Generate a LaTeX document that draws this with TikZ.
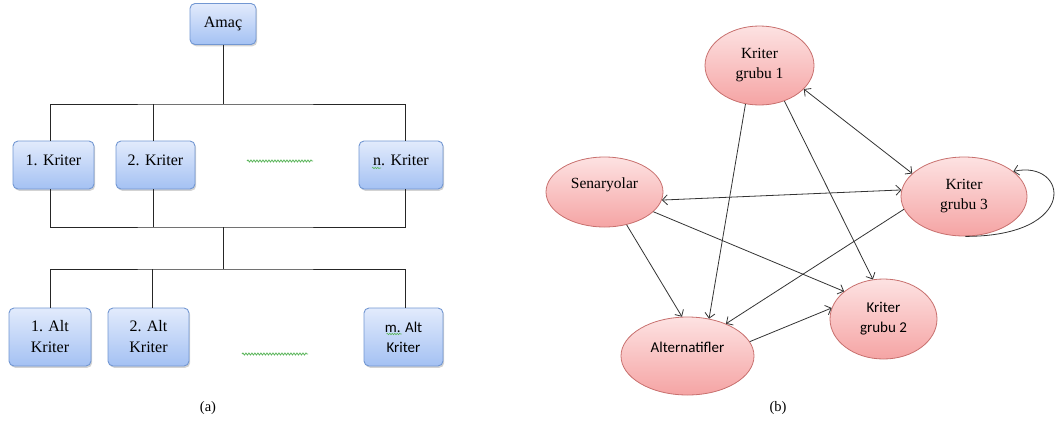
\documentclass[tikz,border=0pt]{standalone}
\usepackage{fontspec}
\setmainfont{Liberation Serif}
\newfontfamily\calib{Carlito}
\usetikzlibrary{shapes.geometric,shadows,arrows.meta,decorations.pathmorphing}
\definecolor{boxtop}{HTML}{E2EBFC}
\definecolor{boxbot}{HTML}{A4C1F3}
\definecolor{boxline}{HTML}{7297D2}
\definecolor{elltop}{HTML}{FDE2E2}
\definecolor{ellbot}{HTML}{F5A4A4}
\definecolor{ellline}{HTML}{C8706E}
\definecolor{linegray}{HTML}{333333}
\definecolor{spell}{HTML}{5BB55B}
\tikzset{
  kbox/.style={draw=boxline, line width=0.9pt, rounded corners=5pt, top color=boxtop, bottom color=boxbot,
    drop shadow={shadow xshift=1.2pt, shadow yshift=-1.8pt, opacity=0.35}, inner sep=0pt, align=center,
    font=\fontsize{16}{21}\selectfont},
  kell/.style={ellipse, draw=ellline, line width=0.8pt, top color=elltop, bottom color=ellbot, inner sep=0pt,
    align=center, font=\fontsize{15.5}{20}\selectfont},
  tree/.style={draw=black!85, line width=0.9pt},
  arr/.style={draw=linegray, line width=0.8pt, -{Straight Barb[length=5pt,width=10pt]}},
  darr/.style={draw=linegray, line width=0.8pt, {Straight Barb[length=5pt,width=10pt]}-{Straight Barb[length=5pt,width=10pt]}},
  squig/.style={draw=spell, line width=0.8pt, decorate, decoration={snake, amplitude=1pt, segment length=3pt}},
  captxt/.style={font=\fontsize{14.5}{16}\selectfont},
  sanstxt/.style={font=\calib\fontsize{15}{20}\selectfont}
}
\begin{document}
\begin{tikzpicture}[x=1pt,y=-1pt]
\useasboundingbox (0,0) rectangle (1056,423);
% ---------- (a) hierarchy ----------
\node[kbox, minimum width=66pt, minimum height=41pt] (amac) at (223,24) {Amaç};
\node[kbox, minimum width=81pt, minimum height=48pt, text height=11pt, text depth=10pt] (k1) at (53.5,165) {1. Kriter};
\node[kbox, minimum width=79pt, minimum height=48pt, text height=11pt, text depth=10pt] (k2) at (155.5,165) {2. Kriter};
\node[kbox, minimum width=84pt, minimum height=48pt, text height=11pt, text depth=10pt] (kn) at (401,165) {n. Kriter};
\node[kbox, minimum width=82pt, minimum height=58pt] (a1) at (50,337) {1. Alt\\Kriter};
\node[kbox, minimum width=81pt, minimum height=58pt] (a2) at (148.5,337) {2. Alt\\Kriter};
\node[kbox, minimum width=79pt, minimum height=58pt, sanstxt] (am) at (403.5,337) {m. Alt\\Kriter};

\coordinate (j1) at (223,104);
\coordinate (j2) at (223,227);
\coordinate (j3) at (223,269);
\draw[tree] (amac.south) -- (j1);
\draw[tree] (k1.north -| 50,0) |- (j1) -| (kn.north -| 405,0);
\draw[tree] (k2.north -| 153,0) -- (153,104);
\draw[tree] (k1.south -| 50,0) |- (j2) -| (kn.south -| 405,0);
\draw[tree] (k2.south -| 153,0) -- (153,227);
\draw[tree] (j2) -- (j3);
\draw[tree] (a1.north -| 50,0) |- (j3) -| (am.north -| 405,0);
\draw[tree] (a2.north -| 152,0) -- (152,269);

% spell-check squiggles / dots
\coordinate (d1s) at (247,161); \coordinate (d1e) at (313,161);
\coordinate (d2s) at (242,354); \coordinate (d2e) at (308,354);
\draw[squig] (d1s) -- (d1e);
\draw[squig] (d2s) -- (d2e);
\draw[squig, line width=0.6pt, decoration={snake, amplitude=0.7pt, segment length=2.5pt}] ([xshift=-29pt,yshift=-3pt]kn.center) -- ([xshift=-20pt,yshift=-3pt]kn.center);
\draw[squig, line width=0.6pt, decoration={snake, amplitude=0.7pt, segment length=2.5pt}] ([xshift=-17pt,yshift=3pt]am.center) -- ([xshift=-2pt,yshift=3pt]am.center);

\node[captxt] (capa) at (208,408) {(a)};

% ---------- (b) network ----------
\node[kell, minimum width=109pt, minimum height=79pt] (kg1) at (759.5,65.5) {Kriter\\grubu 1};
\node[kell, minimum width=126pt, minimum height=79pt] (kg3) at (964,196.5) {Kriter\\grubu 3};
\node[kell, minimum width=117pt, minimum height=70pt, text height=10pt, text depth=18pt] (sen) at (604.5,192) {Senaryolar};
\node[kell, minimum width=133pt, minimum height=78pt, text height=10pt, text depth=18pt, sanstxt] (alt) at (687.5,356) {Alternatifler};
\node[kell, minimum width=107pt, minimum height=80pt, sanstxt] (kg2) at (883.5,319) {Kriter\\grubu 2};

\draw[arr] (kg1.250) -- (alt.60);
\draw[arr] (kg1.305) -- (kg2.105);
\draw[darr] (kg1.332) -- (kg3.156);
\draw[darr] (sen.352) -- (kg3.174);
\draw[arr] (sen.304) -- (alt.98);
\draw[arr] (sen.338) -- (kg2.145);
\draw[arr] (kg3.192) -- (alt.40);
\draw[arr] (alt.13) -- (kg2.168);
\draw[arr] (kg3.272) .. controls +(115,0) and +(55,-12) .. (kg3.27);

\node[captxt] (capb) at (778,408) {(b)};
\end{tikzpicture}
\end{document}
